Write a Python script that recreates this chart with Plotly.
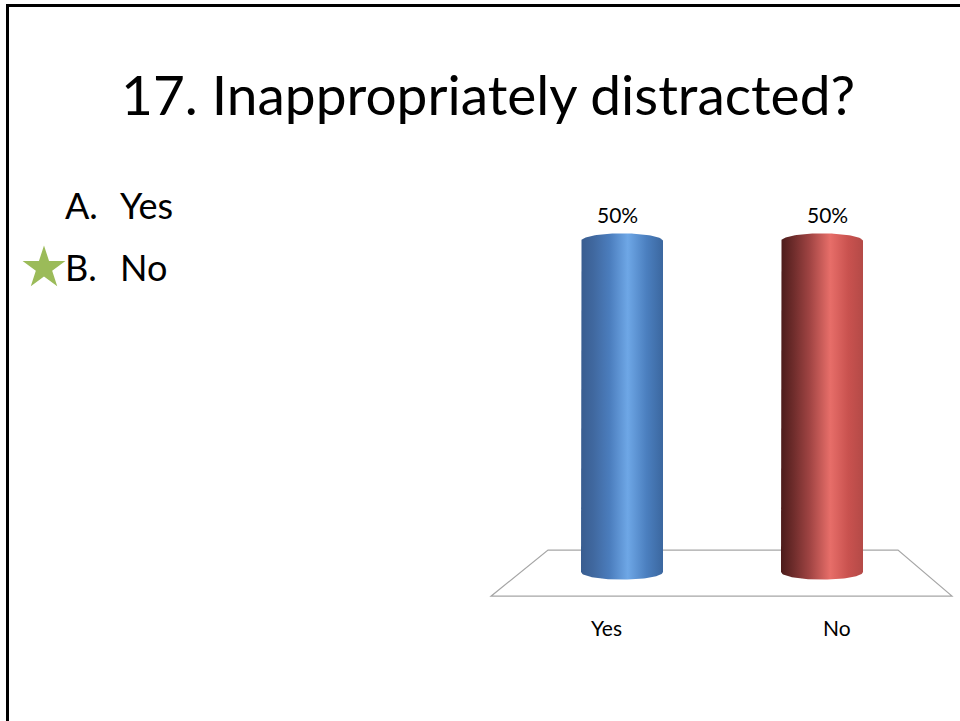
import numpy as np
import plotly.graph_objects as go

# ---- data ----
categories = ["Yes", "No"]
values = [50, 50]                 # percent of responses
answer_letters = ["A.", "B."]
correct_answer = "No"
title_text = "17. Inappropriately distracted?"

# ---- style ----
FONT = "Lato"
OFF = 0                      # page offset of the plot div (body margin removed)
W, H = 960 - OFF, 721 - OFF  # figure size


def sx(px):
    """screen x pixel -> paper x"""
    return (px - OFF) / W


def sy(py):
    """screen y pixel -> paper y"""
    return 1 - (py - OFF) / H


bar_gradients = [
    [[0.0, "#395d90"], [0.15, "#40689f"], [0.35, "#4b7dbd"], [0.57, "#6ea7e6"],
     [0.8, "#4b7fbf"], [1.0, "#3b679f"]],
    [[0.0, "#4c1c1b"], [0.15, "#6e2c2b"], [0.35, "#a04443"], [0.6, "#e76e69"],
     [0.82, "#c9524f"], [1.0, "#b44a47"]],
]
half_width = 0.205      # cylinder half width in category units
ell_ry = 1.15           # ellipse half height in value units

fig = go.Figure()


def cylinder_outline(c, v, n=60):
    t_top = np.linspace(np.pi, 0, n)
    t_bot = np.linspace(0, -np.pi, n)
    xs = ([c - half_width] + list(c + half_width * np.cos(t_top)) + [c + half_width]
          + list(c + half_width * np.cos(t_bot)) + [c - half_width])
    ys = ([0] + list(v + ell_ry * np.sin(t_top)) + [0]
          + list(0 + ell_ry * np.sin(t_bot)) + [0])
    return xs, ys


for i, (cat, v) in enumerate(zip(categories, values)):
    xs, ys = cylinder_outline(i, v)
    fig.add_trace(go.Scatter(
        x=xs, y=ys, mode="lines", fill="toself",
        line=dict(width=0, color="rgba(0,0,0,0)"),
        fillgradient=dict(type="horizontal", colorscale=bar_gradients[i]),
        hoverinfo="skip", showlegend=False,
    ))

# invisible trace to register the front-edge axis used by category labels
fig.add_trace(go.Scatter(x=[0, 1], y=[0, 0], xaxis="x2", mode="markers",
                         marker=dict(opacity=0), hoverinfo="skip", showlegend=False))

# value labels
for i, v in enumerate(values):
    fig.add_annotation(x=i, y=v, xref="x", yref="y", text=f"{v}%",
                       showarrow=False, yshift=27, xshift=(i - 0.5) * 10,
                       font=dict(family=FONT, size=21, color="#000000"))

# category labels along front edge of floor
for i, cat in enumerate(categories):
    fig.add_annotation(x=i, y=sy(627), xref="x2", yref="paper", text=cat,
                       showarrow=False, yanchor="middle",
                       font=dict(family=FONT, size=21, color="#000000"))

# floor (3D plane outline)
floor_x = [-0.37, 1.38, 1.65, -0.655, -0.37]
floor_y = [3.3, 3.3, -3.65, -3.65, 3.3]
path = "M " + " L ".join(f"{x},{y}" for x, y in zip(floor_x, floor_y)) + " Z"
fig.add_shape(type="path", path=path, xref="x", yref="y", layer="below",
              line=dict(color="#a6a6a6", width=1.2), fillcolor="rgba(0,0,0,0)")

# title
fig.add_annotation(x=sx(488), y=sy(94), xref="paper", yref="paper",
                   text=title_text, showarrow=False, xanchor="center", yanchor="middle",
                   font=dict(family=FONT, size=55, color="#000000"))

# answer list
row_y = [205, 267]
for i, (letter, cat) in enumerate(zip(answer_letters, categories)):
    fig.add_annotation(x=sx(63), y=sy(row_y[i]), xref="paper", yref="paper",
                       text=letter, showarrow=False, xanchor="left", yanchor="middle",
                       font=dict(family=FONT, size=36, color="#000000"))
    fig.add_annotation(x=sx(118), y=sy(row_y[i]), xref="paper", yref="paper",
                       text=cat, showarrow=False, xanchor="left", yanchor="middle",
                       font=dict(family=FONT, size=36, color="#000000"))

# star marking the correct answer
ci = categories.index(correct_answer)
cx, cy, R = 44, row_y[ci] + 1, 22.5
r = R * 0.382
pts = []
for k in range(10):
    ang = -np.pi / 2 + k * np.pi / 5
    rad = R if k % 2 == 0 else r
    px, py = cx + rad * np.cos(ang), cy + rad * np.sin(ang)
    pts.append(f"{sx(px):.5f},{sy(py):.5f}")
fig.add_shape(type="path", path="M " + " L ".join(pts) + " Z", xref="paper", yref="paper",
              line=dict(width=0), fillcolor="#9bbb59")

# slide border (top and left edges visible)
fig.add_shape(type="line", x0=sx(6), x1=1.01, y0=sy(5.5), y1=sy(5.5),
              xref="paper", yref="paper", line=dict(color="#000000", width=3))
fig.add_shape(type="line", x0=sx(7.5), x1=sx(7.5), y0=sy(4), y1=-0.01,
              xref="paper", yref="paper", line=dict(color="#000000", width=3))

# axes: bar axis and front-edge label axis (domains cover screen x 480..960, y 200..650)
fig.update_layout(
    width=W, height=H, margin=dict(l=0, r=0, t=0, b=0),
    paper_bgcolor="white", plot_bgcolor="white",
    xaxis=dict(domain=[sx(480), sx(960)], range=[(480 - 622) / 200, (960 - 622) / 200],
               visible=False, fixedrange=True),
    xaxis2=dict(overlaying="x", range=[(480 - 606) / 231, (960 - 606) / 231],
                visible=False, fixedrange=True),
    yaxis=dict(domain=[sy(650), sy(200)],
               range=[(572 - 650) / 6.62, (572 - 200) / 6.62],
               visible=False, fixedrange=True),
    showlegend=False,
)

fig.write_html(
    "out.html",
    config={"displayModeBar": False},
    post_script="document.body.style.margin='0';document.body.style.overflow='hidden';",
)
